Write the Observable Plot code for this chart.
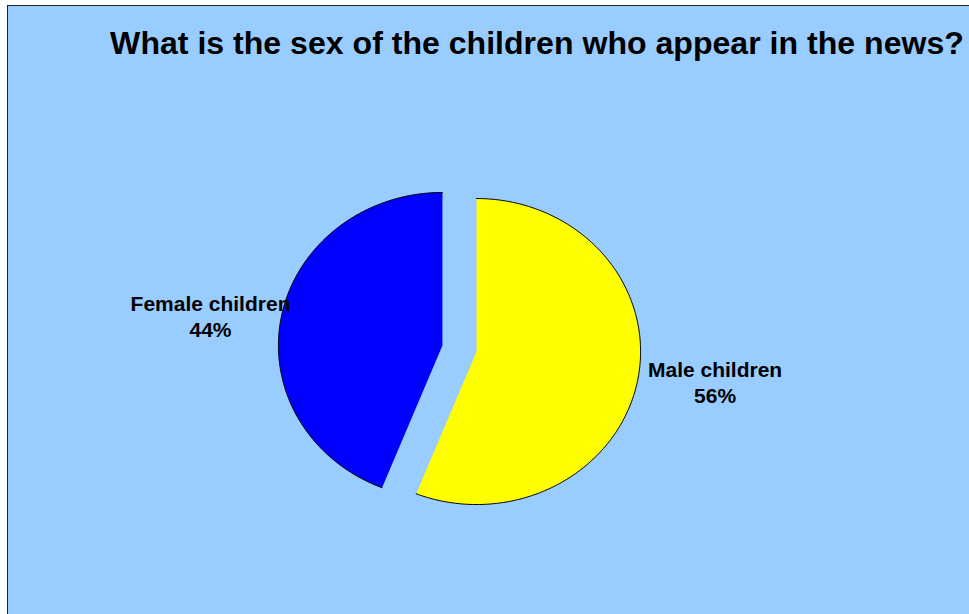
<!DOCTYPE html>
<html>
<head>
<meta charset="utf-8">
<script src="https://cdn.jsdelivr.net/npm/d3@7"></script>
<script src="https://cdn.jsdelivr.net/npm/@observablehq/plot@0.6"></script>
<style>
  html, body { margin: 0; padding: 0; background: #ffffff; }
  #frame {
    position: absolute; left: 7px; top: 5px;
    width: 962px; height: 609px;
    background: #99CCFF;
    border-left: 1px solid #222; border-top: 1px solid #222;
    overflow: hidden;
  }
  #title {
    box-sizing: border-box; height: 64px; padding-top: 21px; padding-left: 96px;
    text-align: center; white-space: nowrap;
    font-family: "Liberation Sans", Arial, sans-serif; font-weight: bold;
    font-size: 32.1px; line-height: 32px; color: #000;
  }
  #chart svg { display: block; background: transparent; }
</style>
</head>
<body>
<div id="frame">
  <div id="title"></div>
  <div id="chart"></div>
</div>
<script>
// ---- data ----
const titleText = "What is the sex of the children who appear in the news?";
const categories = ["Male children", "Female children"];
const shares = [56, 44];           // percent
const sliceColors = ["#FFFF00", "#0000FF"];

document.getElementById("title").textContent = titleText;

// ---- geometry (unit pie, scaled to an ellipse by the x/y scales) ----
const explode = 0.106;
const steps = 240;
const arcs = d3.pie().sort(null).value(d => d)(shares);

const slices = arcs.map((a, i) => {
  const mid = (a.startAngle + a.endAngle) / 2;
  const ox = explode * Math.sin(mid), oy = explode * Math.cos(mid);
  const arcPts = d3.range(steps + 1).map(k => {
    const t = a.startAngle + (a.endAngle - a.startAngle) * k / steps;
    return {x: ox + Math.sin(t), y: oy + Math.cos(t)};
  });
  const poly = [{x: ox, y: oy}, ...arcPts, {x: ox, y: oy}];
  return {cat: categories[i], color: sliceColors[i], mid, ox, oy, arcPts, poly};
});

const labelRx = 1.46, labelRy = 1.05, labelShift = 0.02;
const labels = slices.map((s, i) => ({
  x: s.ox + labelRx * Math.sin(s.mid) + labelShift,
  y: s.oy + labelRy * Math.cos(s.mid),
  text: `${s.cat}\n${shares[i]}%`
}));

const W = 961, H = 544;
const cx = 451, cy = 278, rx = 164, ry = 153;

const marks = [];
slices.forEach(s => {
  marks.push(Plot.line(s.poly, {x: "x", y: "y", fill: s.color, stroke: "none"}));
});
slices.forEach(s => {
  marks.push(Plot.line(s.arcPts, {x: "x", y: "y", stroke: "#000", strokeWidth: 1}));
});
marks.push(Plot.text(labels, {
  x: "x", y: "y", text: "text",
  fontSize: 21, fontWeight: "bold", fontFamily: "Liberation Sans, Arial, sans-serif",
  lineHeight: 1.24, textAnchor: "middle", lineAnchor: "middle", fill: "#000"
}));

const plot = Plot.plot({
  width: W, height: H,
  margin: 0,
  x: {domain: [-1, 1], range: [cx - rx, cx + rx], axis: null},
  y: {domain: [-1, 1], range: [cy + ry, cy - ry], axis: null},
  style: {background: "transparent"},
  marks
});
document.getElementById("chart").appendChild(plot);
</script>
</body>
</html>
